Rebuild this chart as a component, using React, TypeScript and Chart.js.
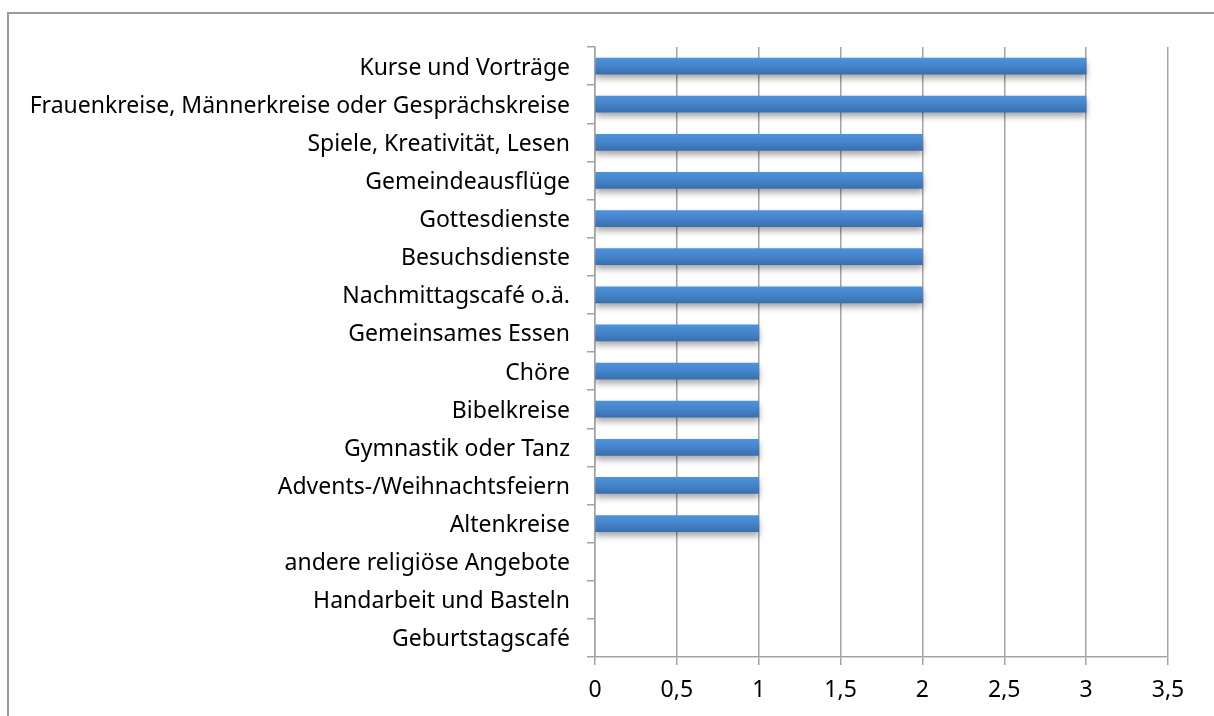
import React, { useEffect, useRef } from "react";
import { Chart, registerables } from "chart.js";

Chart.register(...registerables);

const categories = [
  "Kurse und Vorträge",
  "Frauenkreise, Männerkreise oder Gesprächskreise",
  "Spiele, Kreativität, Lesen",
  "Gemeindeausflüge",
  "Gottesdienste",
  "Besuchsdienste",
  "Nachmittagscafé o.ä.",
  "Gemeinsames Essen",
  "Chöre",
  "Bibelkreise",
  "Gymnastik oder Tanz",
  "Advents-/Weihnachtsfeiern",
  "Altenkreise",
  "andere religiöse Angebote",
  "Handarbeit und Basteln",
  "Geburtstagscafé",
];

const values = [3, 3, 2, 2, 2, 2, 2, 1, 1, 1, 1, 1, 1, 0, 0, 0];

const xTickLabels = ["0", "0,5", "1", "1,5", "2", "2,5", "3", "3,5"];

const FONT = { family: "'Noto Sans', sans-serif", size: 23 };
const GRID = "#a3a3a3";

const framePlugin = {
  id: "frame",
  beforeDraw(chart: any) {
    const ctx = chart.ctx;
    ctx.save();
    ctx.fillStyle = "#ffffff";
    ctx.fillRect(0, 0, chart.width, chart.height);
    ctx.strokeStyle = "#9a9a9a";
    ctx.lineWidth = 2;
    ctx.beginPath();
    ctx.moveTo(8, chart.height);
    ctx.lineTo(8, 13);
    ctx.lineTo(chart.width, 13);
    ctx.stroke();
    ctx.restore();
  },
  beforeDatasetsDraw(chart: any) {
    const ctx = chart.ctx;
    ctx.save();
    ctx.shadowColor = "rgba(0,0,0,0.35)";
    ctx.shadowBlur = 6;
    ctx.shadowOffsetY = 4;
  },
  afterDatasetsDraw(chart: any) {
    chart.ctx.restore();
  },
};

export default function App() {
  const ref = useRef<HTMLCanvasElement | null>(null);

  useEffect(() => {
    if (!ref.current) return;
    const chart = new Chart(ref.current, {
      type: "bar",
      data: {
        labels: categories,
        datasets: [
          {
            data: values,
            barThickness: 16,
            borderWidth: 0,
            backgroundColor: (c: any) => {
              const ch = c.chart;
              if (c.raw === 0) return "rgba(0,0,0,0)";
              const ys = ch.scales && ch.scales.y;
              if (!ys || c.dataIndex == null) return "#4582c8";
              const center = ys.getPixelForValue(c.dataIndex);
              if (!isFinite(center)) return "#4582c8";
              const g = ch.ctx.createLinearGradient(0, center - 8, 0, center + 8);
              g.addColorStop(0, "#4e92da");
              g.addColorStop(0.45, "#4586cd");
              g.addColorStop(1, "#3a6fad");
              return g;
            },
          },
        ],
      },
      options: {
        indexAxis: "y",
        animation: false,
        responsive: false,
        maintainAspectRatio: false,
        layout: { padding: { top: 47, right: 46, bottom: 0, left: 0 } },
        plugins: {
          legend: { display: false },
          tooltip: { enabled: false },
        },
        scales: {
          x: {
            type: "linear",
            min: 0,
            max: 3.5,
            ticks: {
              stepSize: 0.5,
              color: "#000",
              font: FONT,
              padding: 12,
              callback: (_v: any, i: number) => xTickLabels[i],
            },
            grid: { color: GRID, lineWidth: 1.5, tickLength: 8, drawTicks: true },
            border: { display: true, color: GRID, width: 1.5 },
            afterFit: (s: any) => {
              s.height = 59;
            },
          },
          y: {
            type: "category",
            ticks: { color: "#000", font: FONT, padding: 17, autoSkip: false, labelOffset: 2 },
            grid: { drawOnChartArea: false, color: GRID, lineWidth: 1.5, tickLength: 8, offset: true },
            border: { display: true, color: GRID, width: 1.5 },
            afterFit: (s: any) => {
              s.width = 595;
            },
          },
        },
      },
      plugins: [framePlugin],
    } as any);
    return () => chart.destroy();
  }, []);

  return (
    <div style={{ position: "fixed", left: 0, top: 0, width: 1214, height: 716 }}>
      <canvas ref={ref} width={1214} height={716} style={{ width: 1214, height: 716, display: "block" }} />
    </div>
  );
}
